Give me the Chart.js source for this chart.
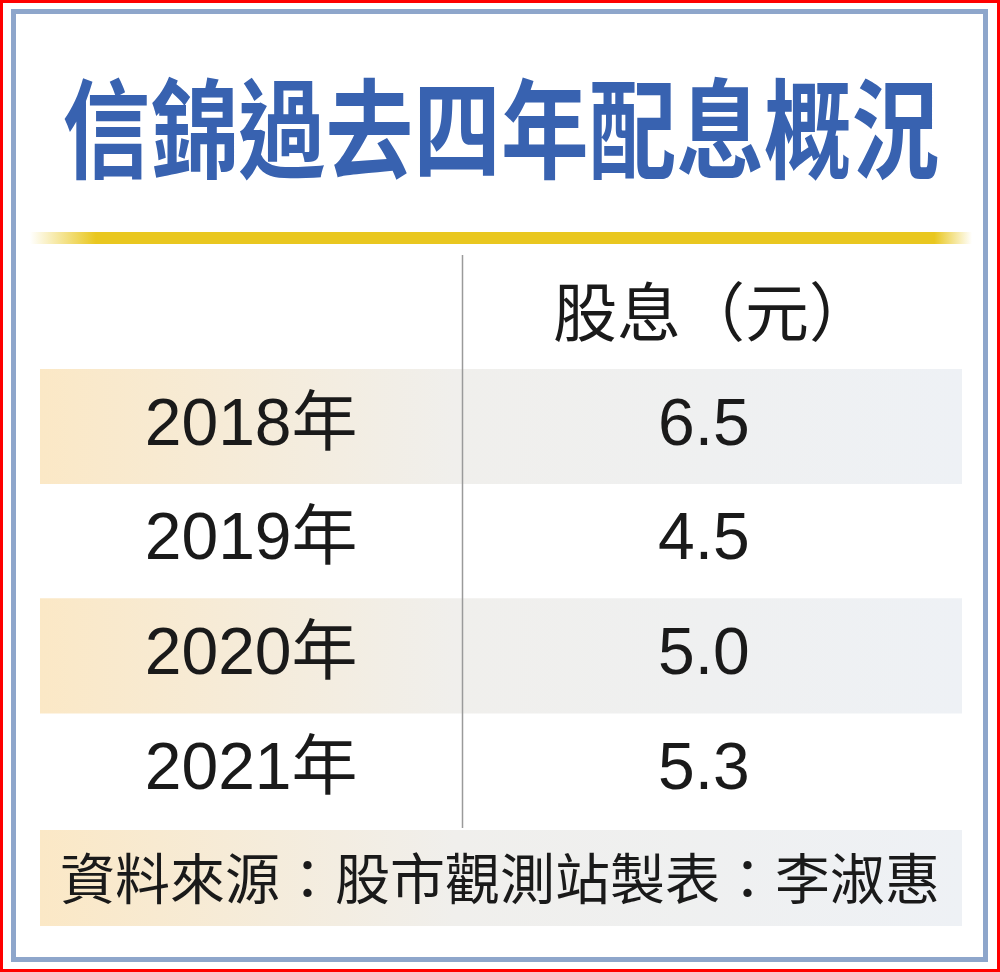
<!DOCTYPE html>
<html>
<head>
<meta charset="utf-8">
<script src="https://cdn.jsdelivr.net/npm/chart.js@4.4.1/dist/chart.umd.min.js"></script>
<style>
  html, body { margin: 0; padding: 0; background: #ffffff; }
  body { width: 1000px; height: 972px; position: relative; overflow: hidden;
         font-family: "Noto Sans CJK TC", "Liberation Sans", sans-serif; }
  #red { position: absolute; left: 0; top: 0; width: 1000px; height: 972px;
         box-sizing: border-box; border: 3px solid #ff0000; }
  #blue { position: absolute; left: 11px; top: 9px; width: 977px; height: 953px;
          box-sizing: border-box; border: 5px solid #8ea6cb; }
  #title { position: absolute; left: -300px; width: 1602px; top: 69px; text-align: center;
           font-size: 108px; line-height: 108px; font-weight: 700; color: #3862b0;
           transform: scaleX(0.812); transform-origin: 50% 50%; white-space: nowrap; }
  #gold { position: absolute; left: 30px; top: 232px; width: 942px; height: 12px;
          background: linear-gradient(to right, rgba(255,255,255,0) 0%, #e9c71f 7%, #e9c71f 96%, rgba(255,255,255,0) 100%); }
  #wrap { position: absolute; left: 40px; top: 255px; width: 922px; height: 573px; }
  #footer { position: absolute; left: 40px; top: 830px; width: 922px; height: 96px;
            background: linear-gradient(to right, #fbe8c6 0%, #f0efec 45%, #eef1f5 100%);
            font-size: 55px; line-height: 90px; color: #1a1a1a; padding-left: 20px;
            box-sizing: border-box; white-space: nowrap; }
</style>
</head>
<body>
<div id="red"></div>
<div id="blue"></div>
<div id="title">信錦過去四年配息概況</div>
<div id="gold"></div>
<div id="wrap"><canvas id="c" width="922" height="573"></canvas></div>
<div id="footer">資料來源：股市觀測站製表：李淑惠</div>
<script>
// ---- data ----
const years = ['2018年', '2019年', '2020年', '2021年'];
const dividends = [6.5, 4.5, 5.0, 5.3];
const headerLabel = '股息（元）';

// ---- layout constants (scale units, 0..1 across table width) ----
const colSplit = 0.458;
const yearX = colSplit / 2;
const valueX = 0.72;
const headerX = 0.73;

const cellFont = "66px 'Liberation Sans', 'Noto Sans CJK TC', sans-serif";
const headFont = "64px 'Noto Sans CJK TC', 'Liberation Sans', sans-serif";

function rowGradient(chart) {
  const a = chart.chartArea;
  if (!a) return '#f5ecdc';
  const g = chart.ctx.createLinearGradient(a.left, 0, a.right, 0);
  g.addColorStop(0, '#fbe8c6');
  g.addColorStop(0.45, '#f0efec');
  g.addColorStop(1, '#eef1f5');
  return g;
}

const tablePlugin = {
  id: 'tablePlugin',
  afterDatasetsDraw(chart) {
    const ctx = chart.ctx;
    const xs = chart.scales.x, ys = chart.scales.y;
    const a = chart.chartArea;
    ctx.save();
    // divider line
    const dx = Math.round(xs.getPixelForValue(colSplit)) + 0.5;
    ctx.strokeStyle = '#9a9a9a';
    ctx.lineWidth = 1.5;
    ctx.beginPath();
    ctx.moveTo(dx, 0);
    ctx.lineTo(dx, a.bottom);
    ctx.stroke();
    // header
    ctx.fillStyle = '#1a1a1a';
    ctx.textAlign = 'center';
    ctx.textBaseline = 'middle';
    ctx.font = headFont;
    ctx.fillText(headerLabel, xs.getPixelForValue(headerX), a.top / 2);
    // cells
    ctx.font = cellFont;
    years.forEach((lab, i) => {
      const y = ys.getPixelForValue(i);
      ctx.fillText(lab, xs.getPixelForValue(yearX), y);
      ctx.fillText(dividends[i].toFixed(1), xs.getPixelForValue(valueX), y);
    });
    ctx.restore();
  }
};

function draw() {
  new Chart(document.getElementById('c'), {
    type: 'bar',
    data: {
      labels: years,
      datasets: [{
        label: '股息（元）',
        data: years.map(() => [0, 1]),
        backgroundColor: (c) => (c.dataIndex % 2 === 0 ? rowGradient(c.chart) : 'rgba(0,0,0,0)'),
        borderWidth: 0,
        categoryPercentage: 1,
        barPercentage: 1
      }]
    },
    options: {
      indexAxis: 'y',
      responsive: false,
      maintainAspectRatio: false,
      devicePixelRatio: 1,
      animation: false,
      layout: { padding: { top: 114, bottom: 0, left: 0, right: 0 } },
      plugins: { legend: { display: false }, tooltip: { enabled: false } },
      scales: {
        x: { type: 'linear', min: 0, max: 1, display: false },
        y: { type: 'category', display: false, offset: true }
      }
    },
    plugins: [tablePlugin]
  });
}
if (document.fonts && document.fonts.ready) { document.fonts.ready.then(draw); } else { draw(); }
</script>
</body>
</html>
